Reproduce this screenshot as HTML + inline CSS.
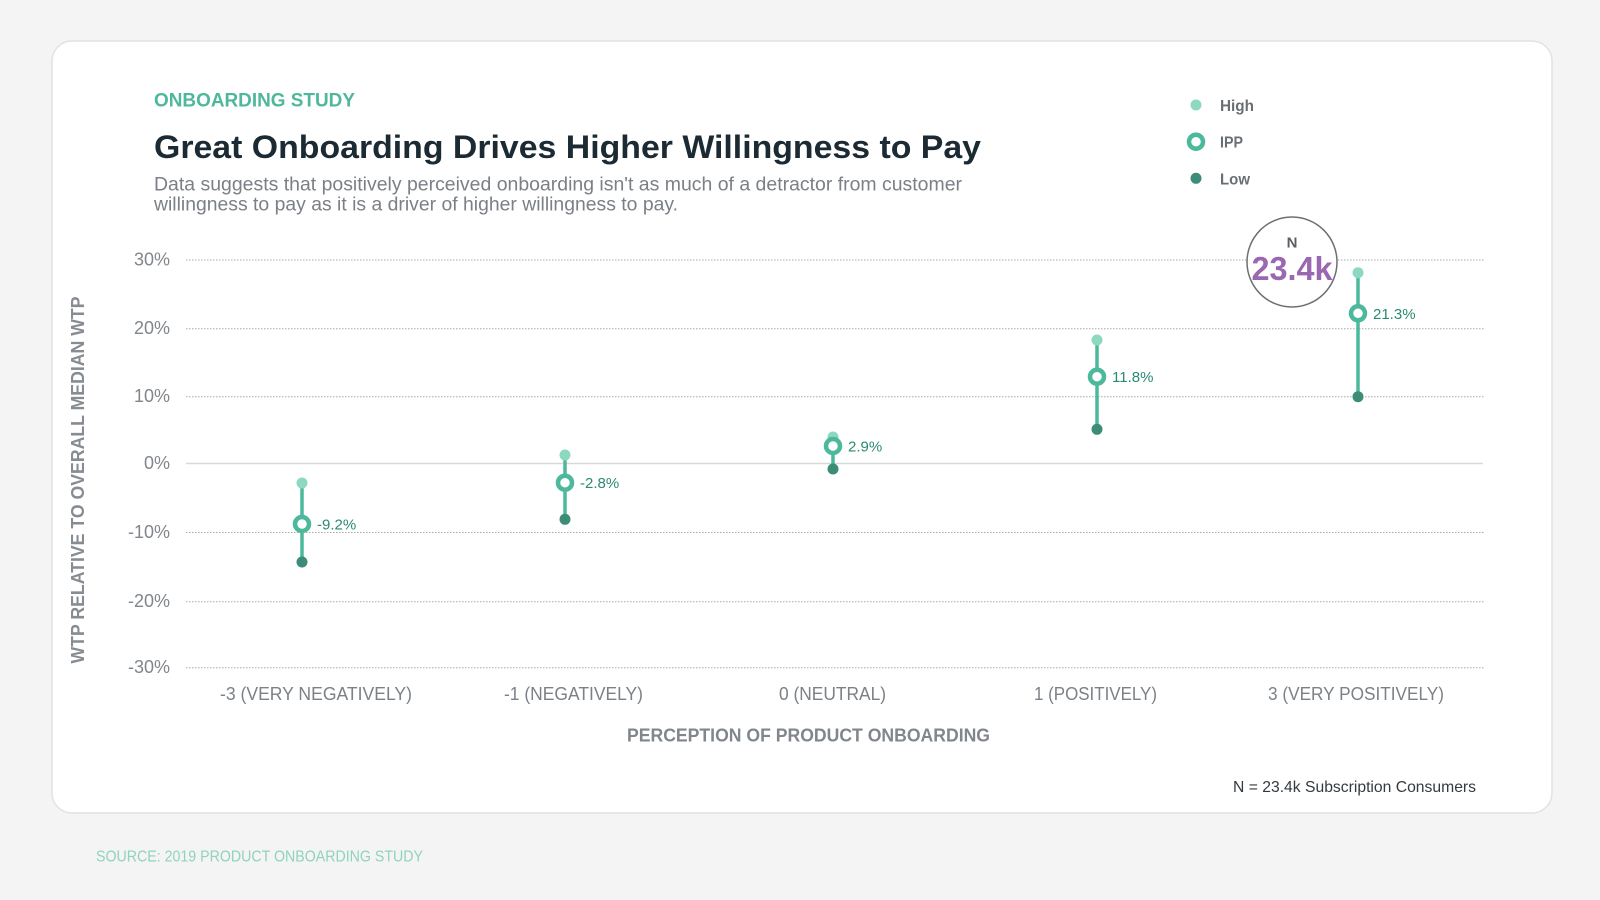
<!DOCTYPE html>
<html>
<head>
<meta charset="utf-8">
<style>
  html, body { margin: 0; padding: 0; background: #f4f4f4; }
  body { width: 1600px; height: 900px; overflow: hidden; }
  svg { display: block; font-family: "Liberation Sans", "DejaVu Sans", sans-serif; }
</style>
</head>
<body>
<svg width="1600" height="900" viewBox="0 0 1600 900" xmlns="http://www.w3.org/2000/svg">
  <rect x="0" y="0" width="1600" height="900" fill="#f4f4f4"/>
  <!-- card -->
  <rect x="52" y="41" width="1500" height="772" rx="20" ry="20" fill="#ffffff" stroke="#e2e2e2" stroke-width="1.5"/>

  <!-- header -->
  <text x="154" y="106.5" font-size="19" font-weight="bold" fill="#4fb79b" textLength="201" lengthAdjust="spacingAndGlyphs">ONBOARDING STUDY</text>
  <text x="154" y="158" font-size="32" font-weight="bold" fill="#1c2a33" textLength="827" lengthAdjust="spacingAndGlyphs">Great Onboarding Drives Higher Willingness to Pay</text>
  <text x="154" y="190.5" font-size="19" fill="#7b8087" textLength="808" lengthAdjust="spacingAndGlyphs">Data suggests that positively perceived onboarding isn't as much of a detractor from customer</text>
  <text x="154" y="210.5" font-size="19" fill="#7b8087" textLength="524" lengthAdjust="spacingAndGlyphs">willingness to pay as it is a driver of higher willingness to pay.</text>

  <!-- legend -->
  <circle cx="1196" cy="105" r="5.5" fill="#8dd9bf"/>
  <text x="1220" y="111" font-size="16" font-weight="bold" fill="#6a6f74" textLength="34" lengthAdjust="spacingAndGlyphs">High</text>
  <circle cx="1196" cy="141.7" r="7" fill="#ffffff" stroke="#4cb89c" stroke-width="4.5"/>
  <text x="1220" y="147.7" font-size="16" font-weight="bold" fill="#6a6f74" textLength="23" lengthAdjust="spacingAndGlyphs">IPP</text>
  <circle cx="1196" cy="178.3" r="5.5" fill="#3d8c78"/>
  <text x="1220" y="184.3" font-size="16" font-weight="bold" fill="#6a6f74" textLength="30" lengthAdjust="spacingAndGlyphs">Low</text>

  <!-- gridlines -->
  <g stroke="#a9a9a9" stroke-width="1" stroke-dasharray="1.5,1.5">
    <line x1="186" y1="260" x2="1485" y2="260"/>
    <line x1="186" y1="328.7" x2="1485" y2="328.7"/>
    <line x1="186" y1="396.7" x2="1485" y2="396.7"/>
    <line x1="186" y1="532.5" x2="1485" y2="532.5"/>
    <line x1="186" y1="601.7" x2="1485" y2="601.7"/>
    <line x1="186" y1="667.7" x2="1485" y2="667.7"/>
  </g>
  <line x1="186" y1="463.5" x2="1483" y2="463.5" stroke="#d9d9d9" stroke-width="1.5"/>

  <!-- y tick labels -->
  <g font-size="18" fill="#80868b" text-anchor="end">
    <text x="170" y="265.5">30%</text>
    <text x="170" y="334.2">20%</text>
    <text x="170" y="402.2">10%</text>
    <text x="170" y="469">0%</text>
    <text x="170" y="538">-10%</text>
    <text x="170" y="607.2">-20%</text>
    <text x="170" y="673.2">-30%</text>
  </g>

  <!-- y axis title -->
  <text transform="translate(84,480) rotate(-90)" x="0" y="0" text-anchor="middle" font-size="18" font-weight="bold" fill="#868c91" textLength="367" lengthAdjust="spacingAndGlyphs">WTP RELATIVE TO OVERALL MEDIAN WTP</text>

  <!-- x labels -->
  <g font-size="18" fill="#7b8187" text-anchor="middle">
    <text x="316" y="700" textLength="192" lengthAdjust="spacingAndGlyphs">-3 (VERY NEGATIVELY)</text>
    <text x="573.5" y="700" textLength="139" lengthAdjust="spacingAndGlyphs">-1 (NEGATIVELY)</text>
    <text x="832.5" y="700" textLength="107" lengthAdjust="spacingAndGlyphs">0 (NEUTRAL)</text>
    <text x="1095.5" y="700" textLength="123" lengthAdjust="spacingAndGlyphs">1 (POSITIVELY)</text>
    <text x="1356" y="700" textLength="176" lengthAdjust="spacingAndGlyphs">3 (VERY POSITIVELY)</text>
  </g>
  <text x="808.5" y="741.5" text-anchor="middle" font-size="18" font-weight="bold" fill="#80868b" textLength="363" lengthAdjust="spacingAndGlyphs">PERCEPTION OF PRODUCT ONBOARDING</text>

  <!-- N circle -->
  <circle cx="1292" cy="262" r="45" fill="#ffffff" stroke="#6b7075" stroke-width="1.5"/>
  <text x="1292" y="247.5" text-anchor="middle" font-size="15" font-weight="bold" fill="#5a5f64">N</text>
  <text x="1292" y="280" text-anchor="middle" font-size="33" font-weight="bold" fill="#9a67b0" textLength="81" lengthAdjust="spacingAndGlyphs">23.4k</text>

  <!-- series -->
  <g>
    <!-- -3 -->
    <line x1="302" y1="483" x2="302" y2="562" stroke="#4cb89c" stroke-width="3.5"/>
    <circle cx="302" cy="483" r="5.5" fill="#8dd9bf"/>
    <circle cx="302" cy="562" r="5.5" fill="#3d8c78"/>
    <circle cx="302" cy="524" r="7" fill="#ffffff" stroke="#4cb89c" stroke-width="4.5"/>
    <!-- -1 -->
    <line x1="565" y1="455" x2="565" y2="519" stroke="#4cb89c" stroke-width="3.5"/>
    <circle cx="565" cy="455" r="5.5" fill="#8dd9bf"/>
    <circle cx="565" cy="519.3" r="5.5" fill="#3d8c78"/>
    <circle cx="565" cy="482.7" r="7" fill="#ffffff" stroke="#4cb89c" stroke-width="4.5"/>
    <!-- 0 -->
    <line x1="833" y1="437" x2="833" y2="469" stroke="#4cb89c" stroke-width="3.5"/>
    <circle cx="833" cy="437" r="5.5" fill="#8dd9bf"/>
    <circle cx="833" cy="469" r="5.5" fill="#3d8c78"/>
    <circle cx="833" cy="446" r="7" fill="#ffffff" stroke="#4cb89c" stroke-width="4.5"/>
    <!-- 1 -->
    <line x1="1097" y1="340" x2="1097" y2="429" stroke="#4cb89c" stroke-width="3.5"/>
    <circle cx="1097" cy="340" r="5.5" fill="#8dd9bf"/>
    <circle cx="1097" cy="429.3" r="5.5" fill="#3d8c78"/>
    <circle cx="1097" cy="376.7" r="7" fill="#ffffff" stroke="#4cb89c" stroke-width="4.5"/>
    <!-- 3 -->
    <line x1="1358" y1="273" x2="1358" y2="397" stroke="#4cb89c" stroke-width="3.5"/>
    <circle cx="1358" cy="272.7" r="5.5" fill="#8dd9bf"/>
    <circle cx="1358" cy="396.7" r="5.5" fill="#3d8c78"/>
    <circle cx="1358" cy="313.3" r="7" fill="#ffffff" stroke="#4cb89c" stroke-width="4.5"/>
  </g>

  <!-- data labels -->
  <g font-size="15" fill="#2a8a72">
    <text x="317" y="529.5">-9.2%</text>
    <text x="580" y="488.2">-2.8%</text>
    <text x="848" y="451.5">2.9%</text>
    <text x="1112" y="382.2">11.8%</text>
    <text x="1373" y="318.8">21.3%</text>
  </g>

  <!-- footnotes -->
  <text x="1233" y="792" font-size="16" fill="#333a40" textLength="243" lengthAdjust="spacingAndGlyphs">N = 23.4k Subscription Consumers</text>
  <text x="96" y="861.5" font-size="16" fill="#90d3bb" textLength="327" lengthAdjust="spacingAndGlyphs">SOURCE: 2019 PRODUCT ONBOARDING STUDY</text>
</svg>
</body>
</html>
